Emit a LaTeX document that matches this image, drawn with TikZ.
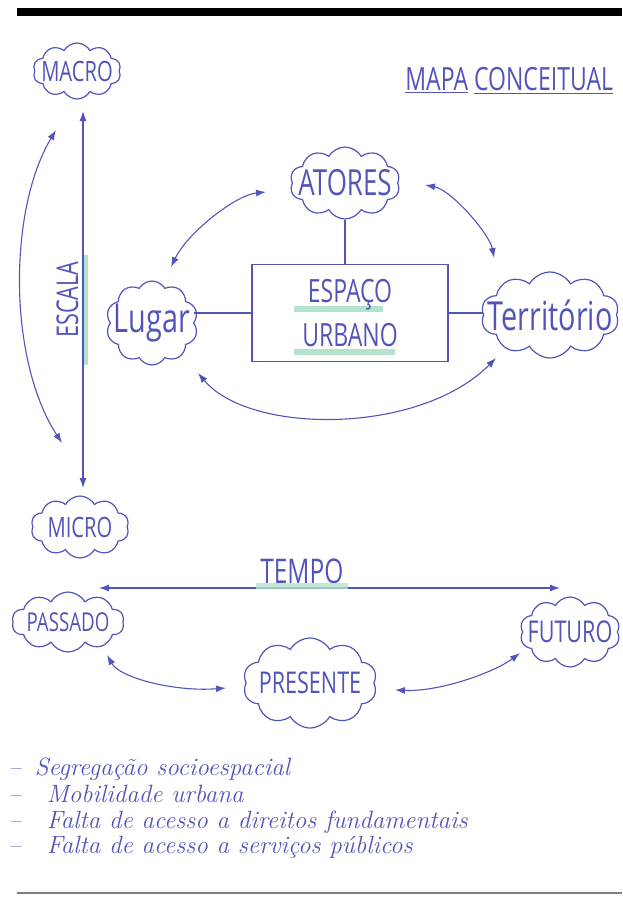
\documentclass[tikz,border=0pt]{standalone}
\usepackage{fontspec}
\setsansfont{Open Sans}[FakeStretch=0.72]
\usepackage{tikz}
\usetikzlibrary{shapes.symbols,arrows.meta}
\definecolor{pen-blue}{RGB}{82,84,186}
\definecolor{pen-green}{RGB}{180,226,204}

\begin{document}
\begin{tikzpicture}[x=0.5pt, y=-0.5pt,
		puff/.style={cloud, cloud puffs=10, cloud puff arc=120, cloud ignores aspect, draw=pen-blue, line width=0.6pt, inner sep=0pt},
		word/.style={text=pen-blue, font=\sffamily\fontsize{#1}{#1}\selectfont},
		link/.style={draw=pen-blue, line width=0.55pt},
		both/.style={link, <->, >={Latex[length=5pt,width=3.5pt]}},
		hilite/.style={draw=pen-green, line width=3pt},
		note/.style={text=pen-blue, anchor=base west, inner sep=0pt, font=\itshape\fontsize{12.5}{12.5}\selectfont}]
		\useasboundingbox (0,0) rectangle (622,906);

		% Page rules
		\fill (17,8) rectangle (622,16);
		\draw[gray, line width=1pt] (17,893) -- (622,893);

		% Title
		\node[word=16, anchor=base west, inner sep=0pt] (title) at (405,90) {\underline{MAPA} \underline{CONCEITUAL}};

		% Draw the scale (macro / micro)
		\node[puff, minimum width=44pt, minimum height=28pt, label={[word=14]center:MACRO}] (macro) at (77,71) {};
		\node[puff, minimum width=49pt, minimum height=31pt, label={[word=14]center:MICRO}] (micro) at (80,527) {};
		\draw[hilite, line width=2pt] (86,255) -- (86,365);
		\draw[both] ([shift={(6,40)}]macro.center) -- node[word=15, midway, rotate=90, anchor=south, inner sep=2pt] (escala) {ESCALA} ([shift={(3,-39)}]micro.center);
		\draw[both] ([shift={(-21,59)}]macro.center) .. controls +(-48,80) and +(-54,-83) .. ([shift={(-18,-84)}]micro.center);

		% Draw the urban space block
		\draw[hilite] (294,309) -- (383,309);
		\draw[hilite] (294,352) -- (395,352);
		\node[draw=pen-blue, line width=0.6pt, minimum width=98pt, minimum height=48.5pt, word=16, align=center] (urbano) at (350,313) {ESPAÇO\\[6pt]URBANO};

		% Draw the concepts around it
		\node[puff, minimum width=55pt, minimum height=36pt, label={[word=18]center:ATORES}] (atores) at (345,183) {};
		\node[puff, minimum width=46pt, minimum height=42pt, label={[word=20]center:Lugar}] (lugar) at (152,323) {};
		\node[puff, minimum width=69pt, minimum height=43pt, label={[word=20]center:Território}] (territorio) at (550,315) {};

		% Connect the concepts with the block
		\draw[link] (atores.south) -- (atores.south |- urbano.north);
		\draw[link] (urbano.west) -- (urbano.west -| lugar.east);
		\draw[link] (urbano.east) -- (urbano.east -| territorio.west);

		% Arrows between the concepts
		\draw[both] ([shift={(-79,9)}]atores.center) .. controls +(-30,3) and +(17,-35) .. ([shift={(19,-56)}]lugar.center);
		\draw[both] ([shift={(80,2)}]atores.center) .. controls +(27,5) and +(-4,-23) .. ([shift={(-56,-57)}]territorio.center);
		\draw[both] ([shift={(46,50)}]lugar.center) .. controls +(52,62) and +(-76,77) .. ([shift={(-54,43)}]territorio.center);

		% Draw the time line
		\node[puff, minimum width=56pt, minimum height=30pt, label={[word=13]center:PASSADO}] (passado) at (68,622) {};
		\node[puff, minimum width=67pt, minimum height=45pt, label={[word=15]center:PRESENTE}] (presente) at (310,683) {};
		\node[puff, minimum width=50pt, minimum height=35pt, label={[word=15]center:FUTURO}] (futuro) at (570,632) {};
		\draw[both] ([shift={(31,-34)}]passado.center) -- node[word=17, pos=0.44, above, inner sep=2pt] (tempo) {TEMPO} ([shift={(-10,-44)}]futuro.center);
		\draw[hilite, opacity=0.8] ([yshift=1pt]tempo.south west) -- ([yshift=1pt]tempo.south east);
		\draw[both] ([shift={(39,33)}]passado.center) .. controls +(13,23) and +(-51,4) .. ([shift={(-84,5)}]presente.center);
		\draw[both] ([shift={(85,7)}]presente.center) .. controls +(45,2) and +(-25,19) .. ([shift={(-50,21)}]futuro.center);

		% Problems list
		\node[note] (item1) at (8,775) {--\hspace{7pt}Segregação socioespacial};
		\node[note] (item2) at (8,802) {--\hspace{13pt}Mobilidade urbana};
		\node[note] (item3) at (8,828) {--\hspace{13pt}Falta de acesso a direitos fundamentais};
		\node[note] (item4) at (8,853) {--\hspace{13pt}Falta de acesso a serviços públicos};
\end{tikzpicture}
\end{document}
